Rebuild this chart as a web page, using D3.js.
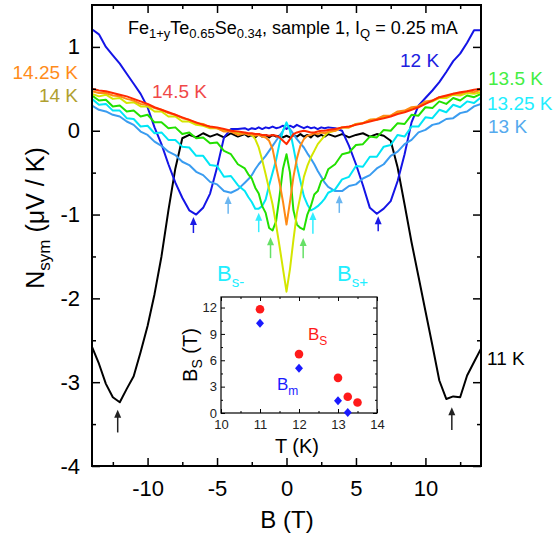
<!DOCTYPE html>
<html><head><meta charset="utf-8">
<script src="https://cdn.jsdelivr.net/npm/d3@7"></script>
<style>body{margin:0;background:#fff;} svg{display:block;font-family:"Liberation Sans",Arial,sans-serif;}</style>
</head><body><svg id="c" width="554" height="540"></svg>
<script>
// magnetic field grid (T)
const B = [-14,-13.5,-13,-12.5,-12,-11.5,-11,-10.5,-10,-9.5,-9,-8.5,-8,-7.5,-7,-6.5,-6,-5.5,-5,-4.5,-4,-3.5,
  -3,-2.75,-2.5,-2.25,-2,-1.75,-1.5,-1.25,-1,-0.75,-0.5,-0.25,0,0.25,0.5,0.75,1,1.25,1.5,1.75,2,2.25,2.5,2.75,3,
  3.5,4,4.5,5,5.5,6,6.5,7,7.5,8,8.5,9,9.5,10,10.5,11,11.5,12,12.5,13,13.5,14];
const N11 = [-2.58,-2.78,-3.02,-3.18,-3.24,-3.08,-2.93,-2.64,-2.33,-1.95,-1.5,-0.95,-0.45,-0.09,-0.05,-0.08,-0.03,-0.07,-0.04,-0.08,-0.03,-0.07,
  -0.04,-0.07,-0.05,-0.08,-0.04,-0.07,-0.05,-0.08,-0.05,-0.07,-0.06,-0.08,-0.06,-0.08,-0.05,-0.07,-0.04,-0.07,-0.05,-0.08,-0.04,-0.07,-0.05,-0.07,-0.04,
  -0.07,-0.04,-0.08,-0.05,-0.03,-0.07,-0.04,-0.06,-0.12,-0.44,-0.88,-1.33,-1.74,-2.15,-2.56,-2.98,-3.2,-3.17,-3.18,-2.92,-2.76,-2.6];
const N12 = [1.21,1.15,1.0,0.9,0.8,0.68,0.56,0.44,0.28,0.04,-0.16,-0.4,-0.62,-0.8,-0.95,-1.0,-0.92,-0.75,-0.44,-0.08,0.02,0.02,
  0.03,0.01,0.03,0.02,0.04,0.02,0.04,0.03,0.05,0.03,0.04,0.06,0.02,0.06,0.04,0.07,0.05,0.03,0.05,0.03,0.04,0.02,0.04,0.03,0.04,
  0.03,0.0,-0.18,-0.4,-0.65,-0.92,-0.99,-0.93,-0.84,-0.6,-0.28,0.1,0.3,0.39,0.48,0.58,0.7,0.83,0.92,1.05,1.2,1.2];
const N13 = [0.3,0.25,0.23,0.19,0.17,0.11,0.07,-0.01,-0.05,-0.13,-0.18,-0.25,-0.29,-0.37,-0.41,-0.49,-0.53,-0.61,-0.64,-0.72,-0.74,-0.7,
  -0.62,-0.58,-0.53,-0.46,-0.4,-0.35,-0.3,-0.24,-0.18,-0.12,-0.06,0.0,0.08,0.02,-0.04,-0.1,-0.15,-0.2,-0.27,-0.33,-0.4,-0.48,-0.55,-0.62,-0.67,
  -0.72,-0.72,-0.66,-0.64,-0.57,-0.53,-0.45,-0.4,-0.3,-0.25,-0.16,-0.11,-0.02,0.01,0.07,0.09,0.14,0.15,0.21,0.23,0.29,0.32];
const N1325 = [0.38,0.31,0.32,0.24,0.24,0.15,0.14,0.05,0.06,-0.03,-0.02,-0.11,-0.11,-0.19,-0.2,-0.3,-0.3,-0.41,-0.42,-0.55,-0.54,-0.65,
  -0.72,-0.79,-0.85,-0.93,-0.93,-0.9,-0.82,-0.65,-0.5,-0.35,-0.15,0.0,0.1,0.0,-0.2,-0.42,-0.6,-0.78,-0.88,-0.95,-0.93,-0.9,-0.86,-0.81,-0.74,
  -0.7,-0.58,-0.55,-0.42,-0.43,-0.31,-0.31,-0.19,-0.17,-0.05,-0.07,0.05,0.05,0.16,0.15,0.25,0.22,0.31,0.28,0.35,0.33,0.4];
const N135 = [0.42,0.36,0.37,0.29,0.3,0.23,0.24,0.17,0.19,0.1,0.1,0.03,0.04,-0.04,-0.02,-0.09,-0.08,-0.15,-0.14,-0.24,-0.28,-0.4,
  -0.45,-0.52,-0.57,-0.68,-0.75,-0.9,-0.98,-1.16,-1.19,-1.08,-0.78,-0.45,-0.28,-0.5,-0.95,-1.12,-1.16,-1.18,-1.0,-0.9,-0.76,-0.72,-0.6,-0.57,-0.46,
  -0.4,-0.28,-0.26,-0.17,-0.16,-0.07,-0.08,0.01,0.0,0.09,0.08,0.19,0.18,0.28,0.27,0.35,0.32,0.39,0.36,0.42,0.4,0.44];
const N14 = [0.44,0.41,0.43,0.38,0.39,0.33,0.34,0.29,0.29,0.23,0.23,0.17,0.17,0.11,0.11,0.07,0.06,0.03,0.03,0.0,0.0,-0.03,
  -0.03,-0.04,-0.05,-0.1,-0.2,-0.35,-0.52,-0.7,-0.88,-1.12,-1.38,-1.65,-1.92,-1.65,-1.3,-0.98,-0.78,-0.55,-0.42,-0.32,-0.24,-0.16,-0.11,-0.06,-0.02,
  0.0,0.04,0.04,0.08,0.09,0.13,0.13,0.17,0.18,0.22,0.23,0.27,0.29,0.34,0.35,0.39,0.39,0.43,0.42,0.45,0.44,0.46];
const N1425 = [0.47,0.45,0.45,0.42,0.41,0.38,0.36,0.32,0.31,0.27,0.25,0.21,0.19,0.15,0.13,0.09,0.08,0.04,0.03,-0.01,-0.01,-0.05,
  -0.03,-0.05,-0.04,-0.06,-0.05,-0.07,-0.08,-0.12,-0.22,-0.42,-0.62,-0.85,-1.12,-0.85,-0.55,-0.33,-0.18,-0.1,-0.06,-0.05,-0.03,-0.04,-0.02,-0.03,-0.01,
  0.0,0.04,0.04,0.08,0.09,0.13,0.14,0.18,0.18,0.23,0.24,0.28,0.29,0.35,0.36,0.4,0.41,0.44,0.44,0.47,0.46,0.49];
const N145 = [0.5,0.48,0.47,0.45,0.43,0.41,0.38,0.35,0.32,0.28,0.25,0.22,0.19,0.16,0.13,0.1,0.07,0.05,0.04,0.02,0.0,-0.01,
  -0.02,-0.03,-0.03,-0.04,-0.04,-0.05,-0.05,-0.06,-0.05,-0.06,-0.08,-0.12,-0.16,-0.1,-0.04,-0.02,-0.01,0.0,-0.01,-0.02,-0.02,-0.01,0.0,0.0,0.01,
  0.02,0.04,0.05,0.07,0.09,0.11,0.13,0.15,0.17,0.2,0.22,0.25,0.28,0.32,0.36,0.4,0.42,0.44,0.46,0.47,0.49,0.5];

const seriesNames  = ["11 K","12 K","13 K","13.25 K","13.5 K","14 K","14.25 K","14.5 K"];
const seriesValues = [N11,N12,N13,N1325,N135,N14,N1425,N145];
const seriesColors = ["#000000","#1414e6","#3a9cf0","#00e6f5","#22e000","#d4e600","#ff8a14","#ff2a00"];
const labelColors  = ["#000000","#2020e0","#55aaee","#22eeff","#44ee44","#b0a030","#ff8c1a","#f04848"];

// arrows: field position, tip value, tail value
const arrowB    = [-12.15,11.9,-6.7,6.6,-4.2,3.8,-2.0,1.9,-1.15,1.2];
const arrowTip  = [-3.33,-3.30,-1.03,-1.02,-0.78,-0.77,-0.98,-0.97,-1.27,-1.28];
const arrowTail = [-3.6,-3.57,-1.22,-1.2,-0.99,-0.98,-1.21,-1.23,-1.52,-1.52];
const arrowColors = ["#222","#222","#1a1ae6","#1a1ae6","#6bb6f0","#6bb6f0","#33eeff","#33eeff","#66e066","#66e066"];

// inset data
const insetT_S = [11,12,13,13.25,13.5];
const insetB_S = [11.8,6.7,4.0,1.85,1.2];
const insetT_m = [11,12,13,13.25];
const insetB_m = [10.2,5.1,1.4,0.05];

const xTicks = [-10,-5,0,5,10];
const yTicks = [-4,-3,-2,-1,0,1];

const svg = d3.select("#c");
const L=92,R=481,T=5,Bt=466;
const x = d3.scaleLinear().domain([-14,14]).range([L,R]);
const y = d3.scaleLinear().domain([-4,1.5]).range([Bt,T]);

svg.append("defs").append("clipPath").attr("id","clip").append("rect")
  .attr("x",L).attr("y",T).attr("width",R-L).attr("height",Bt-T);

const line = d3.line().x(d=>x(d[0])).y(d=>y(d[1]));
const g = svg.append("g").attr("clip-path","url(#clip)");
seriesValues.forEach((vals,i)=>{
  g.append("path").datum(B.map((b,j)=>[b,vals[j]]))
   .attr("d",line).attr("fill","none").attr("stroke",seriesColors[i])
   .attr("stroke-width",2).attr("stroke-linejoin","round");
});

// arrows
arrowB.forEach((b,i)=>{
  const xp=x(b), yt=y(arrowTip[i]), yb=y(arrowTail[i]);
  svg.append("line").attr("x1",xp).attr("x2",xp).attr("y1",yb).attr("y2",yt+5)
    .attr("stroke",arrowColors[i]).attr("stroke-width",1.5);
  svg.append("path").attr("d",`M${xp},${yt}L${xp-3.5},${yt+8}L${xp+3.5},${yt+8}Z`).attr("fill",arrowColors[i]);
});

// axes
function styleAxis(sel){
  sel.selectAll(".domain").remove();
  sel.selectAll("line").attr("stroke","#000").attr("stroke-width",1.5);
  sel.selectAll("text").attr("font-size",22).attr("fill","#000").attr("font-family","Liberation Sans, Arial, sans-serif");
}
const fmt = d=> String(d);
const minorX = d3.range(-12.5,14,2.5).filter(v=>Math.abs(v%5)>0.01);
const minorY = d3.range(-3.5,1.5,1);
svg.append("g").attr("transform",`translate(0,${Bt})`).call(d3.axisBottom(x).tickValues(xTicks).tickSize(-8).tickPadding(14).tickFormat(fmt)).call(styleAxis);
svg.append("g").attr("transform",`translate(0,${Bt})`).call(d3.axisBottom(x).tickValues(minorX).tickSize(-4).tickFormat("")).call(styleAxis);
svg.append("g").attr("transform",`translate(0,${T})`).call(d3.axisTop(x).tickValues(xTicks).tickSize(-8).tickFormat("")).call(styleAxis);
svg.append("g").attr("transform",`translate(0,${T})`).call(d3.axisTop(x).tickValues(minorX).tickSize(-4).tickFormat("")).call(styleAxis);
svg.append("g").attr("transform",`translate(${L},0)`).call(d3.axisLeft(y).tickValues(yTicks).tickSize(-8).tickPadding(12).tickFormat(fmt)).call(styleAxis);
svg.append("g").attr("transform",`translate(${L},0)`).call(d3.axisLeft(y).tickValues(minorY).tickSize(-4).tickFormat("")).call(styleAxis);
svg.append("g").attr("transform",`translate(${R},0)`).call(d3.axisRight(y).tickValues(yTicks).tickSize(-8).tickFormat("")).call(styleAxis);
svg.append("g").attr("transform",`translate(${R},0)`).call(d3.axisRight(y).tickValues(minorY).tickSize(-4).tickFormat("")).call(styleAxis);
svg.append("rect").attr("x",L).attr("y",T).attr("width",R-L).attr("height",Bt-T)
  .attr("fill","none").attr("stroke","#000").attr("stroke-width",2);

// axis titles
svg.append("text").attr("x",287).attr("y",528).attr("text-anchor","middle").attr("font-size",24).text("B (T)");
const yl = svg.append("text").attr("transform","translate(44,218) rotate(-90)").attr("text-anchor","middle").attr("font-size",25);
yl.append("tspan").text("N");
yl.append("tspan").attr("font-size",17).attr("dy",6).text("sym");
yl.append("tspan").attr("dy",-6).text(" (\u03BCV / K)");

// title
const tt = svg.append("text").attr("x",128).attr("y",34).attr("font-size",18);
tt.append("tspan").text("Fe");
tt.append("tspan").attr("font-size",13).attr("dy",4).text("1+y");
tt.append("tspan").attr("dy",-4).text("Te");
tt.append("tspan").attr("font-size",13).attr("dy",4).text("0.65");
tt.append("tspan").attr("dy",-4).text("Se");
tt.append("tspan").attr("font-size",13).attr("dy",4).text("0.34");
tt.append("tspan").attr("dy",-4).text(", sample 1, I");
tt.append("tspan").attr("font-size",13).attr("dy",4).text("Q");
tt.append("tspan").attr("dy",-4).text(" = 0.25 mA");

// temperature labels
const labelPos = [[487,365,"start"],[400,67,"start"],[488,133,"start"],[487,110,"start"],[488,85,"start"],[78,102,"end"],[78,79,"end"],[152,98,"start"]];
seriesNames.forEach((n,i)=>{
  svg.append("text").attr("x",labelPos[i][0]).attr("y",labelPos[i][1]).attr("text-anchor",labelPos[i][2])
    .attr("font-size",19).attr("fill",labelColors[i]).text(n);
});

// Bs- / Bs+
[["s-",217],["s+",337]].forEach(([s,xx])=>{
  const t=svg.append("text").attr("x",xx).attr("y",281).attr("font-size",22).attr("fill","#22eeff");
  t.append("tspan").text("B");
  t.append("tspan").attr("font-size",15).attr("dy",6).text(s);
});

// inset
const iL=221,iR=377,iT=297,iB=413;
const xi = d3.scaleLinear().domain([10,14]).range([iL,iR]);
const yi = d3.scaleLinear().domain([0,13.2]).range([iB,iT]);
svg.append("rect").attr("x",iL).attr("y",iT).attr("width",iR-iL).attr("height",iB-iT).attr("fill","#fff");
function styleInset(sel){
  sel.selectAll(".domain").remove();
  sel.selectAll("line").attr("stroke","#000").attr("stroke-width",1);
  sel.selectAll("text").attr("font-size",13).attr("fill","#222").attr("font-family","Liberation Sans, Arial, sans-serif");
}
const ifmt = d3.format("d");
const ixT=[10,11,12,13,14], ixm=[10.5,11.5,12.5,13.5], iyT=[0,3,6,9,12], iym=[1.5,4.5,7.5,10.5];
svg.append("g").attr("transform",`translate(0,${iB})`).call(d3.axisBottom(xi).tickValues(ixT).tickSize(-4).tickPadding(7).tickFormat(ifmt)).call(styleInset);
svg.append("g").attr("transform",`translate(0,${iB})`).call(d3.axisBottom(xi).tickValues(ixm).tickSize(-2).tickFormat("")).call(styleInset);
svg.append("g").attr("transform",`translate(0,${iT})`).call(d3.axisTop(xi).tickValues(ixT).tickSize(-4).tickFormat("")).call(styleInset);
svg.append("g").attr("transform",`translate(0,${iT})`).call(d3.axisTop(xi).tickValues(ixm).tickSize(-2).tickFormat("")).call(styleInset);
svg.append("g").attr("transform",`translate(${iL},0)`).call(d3.axisLeft(yi).tickValues(iyT).tickSize(-4).tickPadding(4).tickFormat(ifmt)).call(styleInset);
svg.append("g").attr("transform",`translate(${iL},0)`).call(d3.axisLeft(yi).tickValues(iym).tickSize(-2).tickFormat("")).call(styleInset);
svg.append("g").attr("transform",`translate(${iR},0)`).call(d3.axisRight(yi).tickValues(iyT).tickSize(-4).tickFormat("")).call(styleInset);
svg.append("g").attr("transform",`translate(${iR},0)`).call(d3.axisRight(yi).tickValues(iym).tickSize(-2).tickFormat("")).call(styleInset);
svg.append("rect").attr("x",iL).attr("y",iT).attr("width",iR-iL).attr("height",iB-iT).attr("fill","none").attr("stroke","#000").attr("stroke-width",1.2);

svg.append("g").selectAll("circle").data(insetT_S.map((t,i)=>[t,insetB_S[i]])).join("circle")
  .attr("cx",d=>xi(d[0])).attr("cy",d=>yi(d[1])).attr("r",4.3).attr("fill","#ff1a1a");
svg.append("g").selectAll("path").data(insetT_m.map((t,i)=>[t,insetB_m[i]])).join("path")
  .attr("d",d=>{const cx=xi(d[0]),cy=yi(d[1]);return `M${cx},${cy-4.5}L${cx+4},${cy}L${cx},${cy+4.5}L${cx-4},${cy}Z`;})
  .attr("fill","#1a1aff");

const bs = svg.append("text").attr("x",308).attr("y",340).attr("font-size",17).attr("fill","#ff1a1a");
bs.append("tspan").text("B"); bs.append("tspan").attr("font-size",12).attr("dy",5).text("S");
const bm = svg.append("text").attr("x",277).attr("y",390).attr("font-size",17).attr("fill","#1a1aff");
bm.append("tspan").text("B"); bm.append("tspan").attr("font-size",12).attr("dy",5).text("m");

svg.append("text").attr("x",297).attr("y",453).attr("text-anchor","middle").attr("font-size",20).text("T (K)");
const iyl = svg.append("text").attr("transform","translate(197,355) rotate(-90)").attr("text-anchor","middle").attr("font-size",20);
iyl.append("tspan").text("B"); iyl.append("tspan").attr("font-size",14).attr("dy",5).text("S"); iyl.append("tspan").attr("dy",-5).text(" (T)");
</script></body></html>
